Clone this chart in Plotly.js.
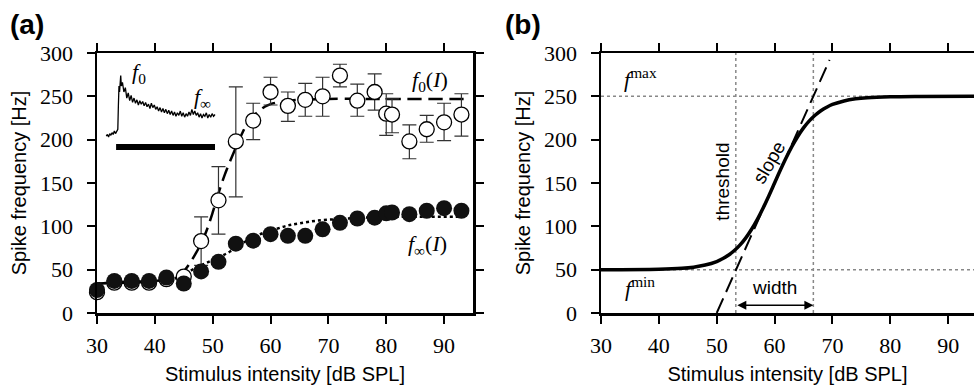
<!DOCTYPE html>
<html>
<head>
<meta charset="utf-8">
<script src="https://cdn.plot.ly/plotly-3.0.1.min.js"></script>
<style>html,body{margin:0;padding:0;background:#fff;}#chart{width:974px;height:388px;}</style>
</head>
<body>
<div id="chart"></div>
<script>
// ---------- Panel (a): measured data ----------
const intensity = [30, 33, 36, 39, 42, 45, 48, 51, 54, 57, 60, 63, 66, 69, 72, 75, 78, 80, 81, 84, 87, 90, 93];
const f0_rate   = [24, 35, 35, 35, 39, 42, 83, 130, 198, 222, 255, 239, 246, 250, 274, 245, 255, 230, 229, 198, 212, 220, 229];
const f0_upper  = [24, 35, 35, 35, 39, 42, 111, 169, 261, 242, 272, 255, 265, 272, 287, 264, 276, 253, 247, 217, 228, 242, 253];
const f0_lower  = [24, 35, 35, 35, 39, 42, 55, 91, 134, 200, 240, 221, 227, 227, 261, 227, 234, 205, 208, 178, 197, 199, 204];
const finf_rate = [26.5, 37, 37, 37, 41, 34, 48, 59, 80, 83.5, 91, 89, 89, 96.5, 104, 109, 110, 115, 116, 114, 118, 121, 118];

// fitted curves
const f0_fit_x   = [30, 35, 40, 43, 44, 45, 46, 47, 48, 49, 50, 51, 52, 53, 54, 55, 56, 57, 58, 59, 60, 62, 65, 70, 80, 94];
const f0_fit_y   = [34, 35, 36, 38, 42, 48, 57, 68, 80, 96, 116, 138, 158, 175, 191, 206, 219, 227, 233, 238, 241, 244, 246, 247, 247, 247];
const finf_fit_x = [30, 35, 40, 43, 45, 47, 49, 51, 53, 55, 57, 59, 61, 63, 65, 68, 72, 76, 80, 94];
const finf_fit_y = [34, 36, 37, 39, 44, 52, 58, 64, 71, 80, 87, 93, 97, 101, 103.5, 106.5, 108.5, 110, 111, 111];

// inset: response trace and stimulus bar
const inset_x = [31.6, 31.8, 32.0, 32.2, 32.4, 32.6, 32.8, 33.0, 33.2, 33.4, 33.6, 33.7, 33.8, 33.9, 34.0, 34.1, 34.2,
  34.4, 34.65, 34.9, 35.15, 35.4, 35.65, 35.9, 36.15, 36.4, 36.65, 36.9, 37.15, 37.4, 37.65, 37.9, 38.15, 38.4, 38.65, 38.9,
  39.15, 39.4, 39.65, 39.9, 40.15, 40.4, 40.65, 40.9, 41.15, 41.4, 41.65, 41.9, 42.15, 42.4, 42.65, 42.9, 43.15, 43.4, 43.65,
  43.9, 44.15, 44.4, 44.65, 44.9, 45.15, 45.4, 45.65, 45.9, 46.15, 46.4, 46.65, 46.9, 47.15, 47.4, 47.65, 47.9, 48.15, 48.4,
  48.65, 48.9, 49.15, 49.4, 49.65, 49.9, 50.15, 50.4];
const inset_y = [204, 206, 203, 207, 205, 208, 206, 210, 207, 209, 212, 240, 262, 255, 268, 274, 262,
  266, 255, 260, 248, 254, 245, 251, 243, 248, 242, 246, 240, 245, 241, 244, 239, 243, 238, 241,
  236, 242, 237, 240, 235, 238, 233, 237, 232, 236, 231, 235, 230, 234, 229, 233, 228, 232, 227,
  231, 228, 233, 227, 231, 226, 230, 227, 232, 228, 235, 229, 233, 228, 231, 226, 230, 225, 229,
  227, 231, 225, 229, 226, 230, 227, 229];
const stim_x = [33.3, 50.4];
const stim_y = [191.5, 191.5];

// ---------- Panel (b): schematic sigmoid ----------
const sig_x = [30, 40, 44, 46, 48, 50, 51, 52, 53, 54, 55, 56, 57, 58, 59, 60, 61, 62, 63, 64, 65, 66, 67, 68, 69, 70, 72, 74, 76, 80, 85, 95];
const sig_y = [50, 50.5, 51.6, 52.9, 55.3, 59.4, 62.6, 66.6, 71.8, 78.3, 86.4, 96.3, 107.8, 120.9, 135.1, 150, 164.9, 179.1, 192.2, 203.7, 213.6, 221.7, 228.2, 233.4, 237.4, 240.6, 244.7, 247.1, 248.4, 249.5, 249.9, 250];
const slope_x = [50, 69.5];
const slope_y = [0, 292];
const f_min = 50, f_max = 250;
const threshold = 53.3, threshold_end = 66.7;
const full_x = [30, 95];
const full_y = [0, 300];

const xTicks = [30, 40, 50, 60, 70, 80, 90];
const yTicks = [0, 50, 100, 150, 200, 250, 300];

const serif = 'Liberation Serif';
const sans = 'Liberation Sans';

const traces = [
  {x: full_x, y: [f_max, f_max], xaxis: 'x2', yaxis: 'y2', mode: 'lines', line: {color: '#888', width: 1.5, dash: 'dot'}, hoverinfo: 'skip'},
  {x: full_x, y: [f_min, f_min], xaxis: 'x2', yaxis: 'y2', mode: 'lines', line: {color: '#888', width: 1.5, dash: 'dot'}, hoverinfo: 'skip'},
  {x: [threshold, threshold], y: full_y, xaxis: 'x2', yaxis: 'y2', mode: 'lines', line: {color: '#888', width: 1.5, dash: 'dot'}, hoverinfo: 'skip'},
  {x: [threshold_end, threshold_end], y: full_y, xaxis: 'x2', yaxis: 'y2', mode: 'lines', line: {color: '#888', width: 1.5, dash: 'dot'}, hoverinfo: 'skip'},
  {x: slope_x, y: slope_y, xaxis: 'x2', yaxis: 'y2', mode: 'lines', line: {color: '#000', width: 2, dash: '16px,7px'}},
  {x: sig_x, y: sig_y, xaxis: 'x2', yaxis: 'y2', mode: 'lines', line: {color: '#000', width: 3.5, shape: 'spline'}},
  {x: f0_fit_x, y: f0_fit_y, xaxis: 'x', yaxis: 'y', mode: 'lines', line: {color: '#000', width: 2.5, dash: '14px,7px', shape: 'spline'}},
  {x: finf_fit_x, y: finf_fit_y, xaxis: 'x', yaxis: 'y', mode: 'lines', line: {color: '#000', width: 2.5, dash: 'dot', shape: 'spline'}},
  {x: inset_x, y: inset_y, xaxis: 'x', yaxis: 'y', mode: 'lines', line: {color: '#000', width: 1.3}},
  {x: stim_x, y: stim_y, xaxis: 'x', yaxis: 'y', mode: 'lines', line: {color: '#000', width: 6}},
  {x: intensity, y: f0_rate, xaxis: 'x', yaxis: 'y', mode: 'markers', cliponaxis: false,
   marker: {symbol: 'circle', size: 15, color: '#fff', line: {color: '#000', width: 1.3}},
   error_y: {type: 'data', symmetric: false,
     array: f0_upper.map((u, i) => u - f0_rate[i]),
     arrayminus: f0_lower.map((l, i) => f0_rate[i] - l),
     color: '#333', thickness: 1.2, width: 7}},
  {x: intensity, y: finf_rate, xaxis: 'x', yaxis: 'y', mode: 'markers', cliponaxis: false,
   marker: {symbol: 'circle', size: 16, color: '#111', line: {color: '#000', width: 0}}}
];

const yDomain = [1 - 313 / 388, 1 - 53 / 388];
const titleFont = {family: sans, size: 20, color: '#000'};
const tickFont = {family: serif, size: 22, color: '#000'};

const layout = {
  width: 974, height: 388,
  margin: {l: 0, r: 0, t: 0, b: 0},
  paper_bgcolor: '#fff', plot_bgcolor: '#fff',
  showlegend: false,
  xaxis: {domain: [97 / 974, 473 / 974], range: [30, 95], anchor: 'y', tickvals: xTicks,
    tickfont: tickFont, ticklabelstandoff: 3,
    showline: true, linecolor: '#000', linewidth: 2.5, mirror: 'ticks',
    ticks: 'outside', ticklen: 8, tickwidth: 2, tickcolor: '#000', showgrid: false, zeroline: false,
    title: {text: 'Stimulus intensity [dB SPL]', font: titleFont, standoff: 10}},
  yaxis: {domain: yDomain, range: [0, 300], anchor: 'x', tickvals: yTicks,
    tickfont: tickFont, ticklabelstandoff: 9,
    showline: true, linecolor: '#000', linewidth: 2.5, mirror: 'ticks',
    ticks: 'outside', ticklen: 8, tickwidth: 2, tickcolor: '#000', showgrid: false, zeroline: false,
    title: {text: 'Spike frequency [Hz]', font: titleFont, standoff: 8}},
  xaxis2: {domain: [601 / 974, 1], range: [30, 30 + 373 / 5.786], anchor: 'y2', tickvals: xTicks,
    tickfont: tickFont, ticklabelstandoff: 3,
    showline: true, linecolor: '#000', linewidth: 2.5, mirror: 'ticks',
    ticks: 'outside', ticklen: 8, tickwidth: 2, tickcolor: '#000', showgrid: false, zeroline: false,
    title: {text: 'Stimulus intensity [dB SPL]', font: titleFont, standoff: 10}},
  yaxis2: {domain: yDomain, range: [0, 300], anchor: 'x2', tickvals: yTicks,
    tickfont: tickFont, ticklabelstandoff: 9,
    showline: true, linecolor: '#000', linewidth: 2.5, mirror: false,
    ticks: 'outside', ticklen: 8, tickwidth: 2, tickcolor: '#000', showgrid: false, zeroline: false,
    title: {text: 'Spike frequency [Hz]', font: titleFont, standoff: 8}},
  annotations: [
    {xref: 'paper', yref: 'paper', x: 8 / 974, y: 1 - 25 / 388, xanchor: 'left', yanchor: 'middle', showarrow: false,
     text: '<b>(a)</b>', font: {family: sans, size: 28, color: '#000'}},
    {xref: 'paper', yref: 'paper', x: 503 / 974, y: 1 - 25 / 388, xanchor: 'left', yanchor: 'middle', showarrow: false,
     text: '<b>(b)</b>', font: {family: sans, size: 28, color: '#000'}},
    {xref: 'x', yref: 'y', x: 37.3, y: 277, showarrow: false, text: '<i>f</i><sub>0</sub>', font: {family: serif, size: 22, color: '#000'}},
    {xref: 'x', yref: 'y', x: 48.3, y: 248, showarrow: false, text: '<i>f</i><sub>∞</sub>', font: {family: serif, size: 22, color: '#000'}},
    {xref: 'x', yref: 'y', x: 87.5, y: 268, showarrow: false, text: '<i>f</i><sub>0</sub>(<i>I</i>)', font: {family: serif, size: 22, color: '#000'}},
    {xref: 'x', yref: 'y', x: 87.2, y: 78.5, showarrow: false, text: '<i>f</i><sub>∞</sub>(<i>I</i>)', font: {family: serif, size: 22, color: '#000'}},
    {xref: 'x2', yref: 'y2', x: 36.9, y: 271, showarrow: false, text: '<i>f</i><sup>max</sup>', font: {family: serif, size: 22, color: '#000'}},
    {xref: 'x2', yref: 'y2', x: 36.7, y: 30, showarrow: false, text: '<i>f</i><sup>min</sup>', font: {family: serif, size: 22, color: '#000'}},
    {xref: 'x2', yref: 'y2', x: 51, y: 151, showarrow: false, textangle: -90, text: 'threshold', font: {family: sans, size: 19, color: '#000'}},
    {xref: 'x2', yref: 'y2', x: 59, y: 174, showarrow: false, textangle: -60, text: 'slope', font: {family: sans, size: 19, color: '#000'}},
    {xref: 'x2', yref: 'y2', x: 59.9, y: 29, showarrow: false, text: 'width', font: {family: sans, size: 19, color: '#000'}},
    {xref: 'x2', yref: 'y2', axref: 'x2', ayref: 'y2', x: threshold_end, y: 9, ax: threshold, ay: 9, text: '',
     showarrow: true, arrowside: 'end+start', arrowhead: 2, arrowsize: 1.2, arrowwidth: 1.5, arrowcolor: '#000'}
  ]
};

Plotly.newPlot('chart', traces, layout, {staticPlot: true, displayModeBar: false});
</script>
</body>
</html>
